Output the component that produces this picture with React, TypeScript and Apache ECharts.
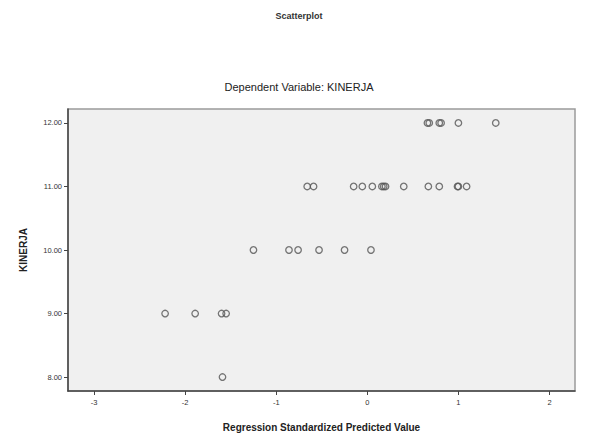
import React, { useEffect, useRef } from "react";
import * as echarts from "echarts";

const predicted12 = [0.66, 0.68, 0.79, 0.81, 1.0, 1.41];
const predicted11 = [-0.66, -0.59, -0.15, -0.055, 0.055, 0.16, 0.18, 0.2, 0.4, 0.67, 0.79, 0.99, 1.0, 1.09];
const predicted10 = [-1.25, -0.86, -0.76, -0.53, -0.25, 0.04];
const predicted9 = [-2.22, -1.89, -1.6, -1.55];
const predicted8 = [-1.59];
const kinerjaLevels = [12, 11, 10, 9, 8];
const xTicks = [-3, -2, -1, 0, 1, 2];
const yTicks = [8, 9, 10, 11, 12];

const groups = [predicted12, predicted11, predicted10, predicted9, predicted8];

export default function App() {
  const ref = useRef<HTMLDivElement>(null);
  useEffect(() => {
    if (!ref.current) return;
    const chart = echarts.init(ref.current, undefined, { renderer: "svg" });
    const data: number[][] = [];
    groups.forEach((g, i) => g.forEach((x) => data.push([x, kinerjaLevels[i]])));
    const font = "'Liberation Sans', Arial, sans-serif";
    chart.setOption({
      animation: false,
      backgroundColor: "#ffffff",
      title: [
        {
          text: "Scatterplot",
          left: "center",
          top: 6,
          textStyle: { fontSize: 9, fontWeight: "bold", color: "#333", fontFamily: font },
        },
        {
          text: "Dependent Variable: KINERJA",
          left: "center",
          top: 76,
          textStyle: { fontSize: 11, fontWeight: "normal", color: "#222", fontFamily: font },
        },
      ],
      grid: {
        left: 68,
        right: 23,
        top: 109,
        bottom: 45,
        show: true,
        backgroundColor: "#f0f0f0",
        borderColor: "#9a9a9a",
        borderWidth: 1.5,
      },
      xAxis: {
        type: "value",
        min: -3.286,
        max: 2.28,
        name: "Regression Standardized Predicted Value",
        nameLocation: "middle",
        nameGap: 31,
        nameTextStyle: { fontSize: 10, fontWeight: "bold", color: "#222", fontFamily: font },
        axisLine: { show: true, onZero: false, lineStyle: { color: "#444", width: 1.5 } },
        axisTick: { show: true, length: 4, customValues: xTicks, lineStyle: { color: "#444" } },
        axisLabel: { customValues: xTicks, fontSize: 7.5, color: "#333", margin: 7, fontFamily: font },
        splitLine: { show: false },
      },
      yAxis: {
        type: "value",
        min: 7.78,
        max: 12.22,
        name: "KINERJA",
        nameLocation: "middle",
        nameGap: 40,
        nameTextStyle: { fontSize: 10, fontWeight: "bold", color: "#222", fontFamily: font },
        axisLine: { show: true, onZero: false, lineStyle: { color: "#444", width: 1.5 } },
        axisTick: { show: true, length: 4, customValues: yTicks, lineStyle: { color: "#444" } },
        axisLabel: {
          customValues: yTicks,
          fontSize: 7.5,
          color: "#333",
          margin: 6,
          fontFamily: font,
          formatter: (v: number) => v.toFixed(2),
        },
        splitLine: { show: false },
      },
      series: [
        {
          type: "scatter",
          data,
          symbol: "circle",
          symbolSize: 6.5,
          itemStyle: { color: "rgba(0,0,0,0)", borderColor: "#555", borderWidth: 1.3 },
        },
      ],
    });
    return () => chart.dispose();
  }, []);
  return (
    <div
      ref={ref}
      style={{ position: "fixed", left: 0, top: 0, width: 598, height: 437 }}
    />
  );
}
